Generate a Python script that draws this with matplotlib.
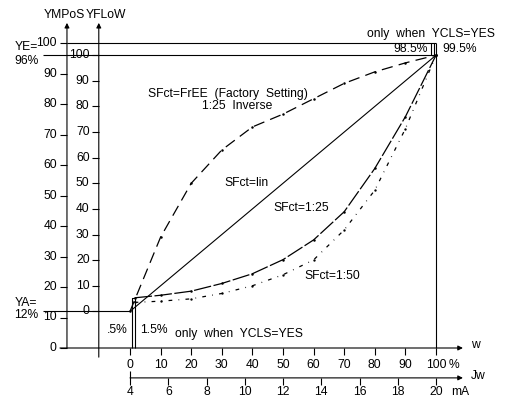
import numpy as np
import matplotlib.pyplot as plt

plt.rcParams['font.family'] = ['Liberation Sans', 'DejaVu Sans']
plt.rcParams['font.size'] = 8.7

# valve stroke w in %, positioner output in % of YFLoW
w_free = [0, 10, 20, 30, 40, 50, 60, 70, 80, 90, 100]
y_free = [0, 29, 50, 63, 72, 77, 83, 89, 93.5, 97, 100]
w_lin = [0, 100]
y_lin = [0, 100]
w_eq = [1.5, 10, 20, 30, 40, 50, 60, 70, 80, 90, 100]
y_125 = [5.3, 6.3, 7.9, 10.9, 14.7, 20.2, 27.9, 38.9, 55.8, 76, 100]
y_150 = [3.5, 4.0, 4.9, 7.0, 10.0, 14.3, 20.1, 31.8, 47.3, 71.3, 100]

ya, ye = 12, 96  # YA / YE in % of YMPoS
ympos_ticks = list(range(0, 101, 10))
yflow_ticks = list(range(0, 101, 10))
w_ticks = list(range(0, 101, 10))
ma_ticks = [4, 6, 8, 10, 12, 14, 16, 18, 20]

X_MPOS = -20.6   # YMPoS axis position (w units)
X_FLOW = -10.2   # YFLoW axis position
Y_JW = -9.8      # Jw axis position (YMPoS units)
X_END = 108.8    # arrow tip of horizontal axes
Y_TOP = 106.6    # arrow tip of vertical axes


def flow(v):
    return ya + (ye - ya) * np.asarray(v, dtype=float) / 100.0


def ma_to_w(ma):
    return (np.asarray(ma, dtype=float) - 4) * 100.0 / 16.0


fig = plt.figure(figsize=(5.08, 4.0), dpi=100)
ax = fig.add_axes([0, 0, 1, 1])
ax.set_xlim(-130 / 3.06, (508 - 130) / 3.06)
ax.set_ylim(-52 / 3.05, 348 / 3.05)
ax.axis('off')

k = dict(color='black', lw=0.8, solid_capstyle='butt')
arrow = dict(arrowstyle='-|>', lw=0.8, color='black', mutation_scale=7,
             shrinkA=0, shrinkB=0)

# axes with arrows
ax.annotate('', xy=(X_MPOS, Y_TOP), xytext=(X_MPOS, 0), arrowprops=arrow)
ax.annotate('', xy=(X_FLOW, Y_TOP), xytext=(X_FLOW, -3), arrowprops=arrow)
ax.annotate('', xy=(X_END, 0), xytext=(X_MPOS - 2.3, 0), arrowprops=arrow)
ax.annotate('', xy=(X_END, Y_JW), xytext=(0, Y_JW), arrowprops=arrow)

ax.text(X_MPOS - 1, 109.2, 'YMPoS', ha='center', va='center')
ax.text(X_FLOW + 2.5, 109.2, 'YFLoW', ha='center', va='center')
ax.text(111.5, 1.0, 'w', ha='left', va='center')
ax.text(111.5, Y_JW + 0.5, 'Jw', ha='left', va='center')

# YMPoS ticks
for t in ympos_ticks:
    ax.plot([X_MPOS - 2.3, X_MPOS], [t, t], **k)
    ax.text(X_MPOS - 3.3, t, str(t), ha='right', va='center')

# YFLoW ticks
for t in yflow_ticks:
    yy = flow(t)
    ax.plot([X_FLOW - 2.3, X_FLOW], [yy, yy], **k)
    ax.text(X_FLOW - 3.0, yy, str(t), ha='right', va='center')

# w ticks
for t in w_ticks:
    ax.plot([t, t], [0, -2.3], **k)
    ax.text(t, -5.6, str(t), ha='center', va='center')
ax.text(104.2, -5.6, '%', ha='left', va='center')

# Jw ticks
for t in ma_ticks:
    xx = ma_to_w(t)
    top = Y_JW + 2.3 if t == 4 else Y_JW
    ax.plot([xx, xx], [top, Y_JW - 2.3], **k)
    ax.text(xx, -14.4, str(t), ha='center', va='center')
ax.text(104.9, -14.4, 'mA', ha='left', va='center')

# frame lines: YMPoS 100, YE, YA, w = 100
ax.plot([X_MPOS, 100], [100, 100], **k)
ax.plot([-28.4, 100], [ye, ye], **k)
ax.plot([-28.4, 0], [ya, ya], **k)
ax.plot([100, 100], [0, 100], **k)

ax.text(-37.8, 98.8, 'YE=', ha='left', va='center', linespacing=0.9)
ax.text(-37.8, 94.0, '96%', ha='left', va='center')
ax.text(-37.8, 14.7, 'YA=', ha='left', va='center')
ax.text(-37.8, 10.9, '12%', ha='left', va='center')

# tight closing band (YCLS)
ax.plot([0.5, 0.5, 1.5, 1.5], [0, flow(5.3), flow(5.3), 0], **k)
ax.plot([98.5, 98.5], [ye, 100], **k)
ax.plot([99.5, 99.5], [ye, 100], **k)
ax.text(-0.8, 5.9, '.5%', ha='right', va='center')
ax.text(3.3, 5.9, '1.5%', ha='left', va='center')
ax.text(14.7, 4.6, 'only  when  YCLS=YES', ha='left', va='center')
ax.text(97.3, 98.0, '98.5%', ha='right', va='center')
ax.text(102.0, 98.0, '99.5%', ha='left', va='center')
ax.text(119.3, 103.0, 'only  when  YCLS=YES', ha='right', va='center')

# characteristic curves
ax.plot(w_lin, flow(y_lin), **k)
ax.plot(w_free, flow(y_free), color='black', lw=0.9, dashes=(9, 5),
        marker='o', ms=0.8)
ax.plot(w_eq, flow(y_125), color='black', lw=0.9, dashes=(14, 2),
        marker='o', ms=0.8)
ax.plot(w_eq, flow(y_150), color='black', lw=0.9, dashes=(3, 5, 0.6, 5),
        marker='o', ms=0.7)

ax.text(5.9, 83.3, 'SFct=FrEE  (Factory  Setting)', ha='left', va='center')
ax.text(23.5, 79.3, '1:25  Inverse', ha='left', va='center')
ax.text(31.0, 54.1, 'SFct=lin', ha='left', va='center')
ax.text(46.7, 45.9, 'SFct=1:25', ha='left', va='center')
ax.text(56.9, 23.6, 'SFct=1:50', ha='left', va='center')

fig.savefig('out.png', dpi=100)
